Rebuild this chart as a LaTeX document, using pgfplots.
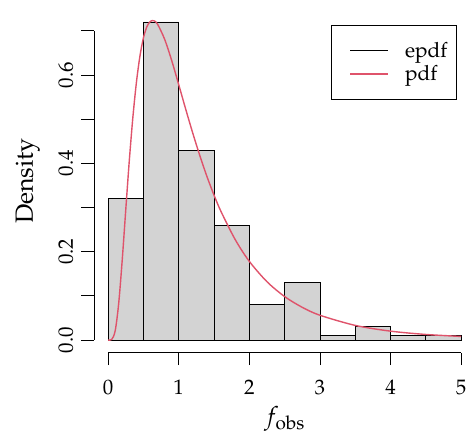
\documentclass[border=0pt]{standalone}
\usepackage[T1]{fontenc}
\usepackage{mathpazo}
\usepackage{pgfplots}
\pgfplotsset{compat=1.18}
\definecolor{rred}{HTML}{DF536B}
\definecolor{rgray}{HTML}{D3D3D3}
\begin{document}
\begin{tikzpicture}
\begin{axis}[
  name=ax,
  x=70.6bp, y=441.7bp,
  xmin=-0.2, xmax=5.2, ymin=-0.0288, ymax=0.7488,
  axis lines*=left,
  axis line style={draw=none},
  tick align=outside,
  major tick length=12.5bp, minor tick length=12.5bp,
  tick style={black, line width=0.8bp},
  xtick={0,1,2,3,4,5},
  ytick={0,0.2,0.4,0.6},
  minor ytick={0.1,0.3,0.5,0.7},
  yticklabels={0.0,0.2,0.4,0.6},
  tick label style={font=\fontsize{21}{24}\selectfont},
  yticklabel style={rotate=90, anchor=south, inner sep=0pt, yshift=8bp},
  xticklabel style={anchor=base, inner sep=0pt, yshift=-29bp},
  xlabel={$f_{\mathrm{obs}}$},
  ylabel={Density},
  every axis x label/.style={at={([yshift=-72bp]axis description cs:0.5,0)}, anchor=base, inner sep=0pt, font=\fontsize{25}{28}\selectfont},
  every axis y label/.style={at={([xshift=-61bp]axis description cs:0,0.5)}, rotate=90, anchor=base, inner sep=0pt, font=\fontsize{25}{28}\selectfont},
  clip=false,
  legend style={at={(axis cs:4.939,0.7132)}, anchor=north east, draw=black, line width=0.8bp,
    font=\fontsize{21}{24}\selectfont, inner xsep=9bp, inner ysep=9bp, row sep=-9.4bp,
    nodes={inner sep=0pt, text height=22.7bp, text depth=10bp}},
  legend cell align=left,
  legend image code/.code={\path (-9bp,0bp); \draw[#1] (0bp,0bp) -- (37.6bp,0bp); \path (54.3bp,0bp);},
]
\draw[black, line width=0.8bp] (axis cs:0,-0.0288) -- (axis cs:5,-0.0288);
\draw[black, line width=0.8bp] (axis cs:-0.2,0) -- (axis cs:-0.2,0.7);
\addplot[ybar interval, fill=rgray, draw=black, line width=0.8bp, forget plot] coordinates {
  (0,0.32) (0.5,0.72) (1,0.43) (1.5,0.26) (2,0.08) (2.5,0.13) (3,0.01) (3.5,0.03) (4,0.01) (4.5,0.01) (5,0.01)
};
\addlegendimage{black, line width=0.8bp}
\addlegendentry{epdf}
\addplot[rred, line width=1.4bp, smooth] coordinates {
  (0,0) (0.05,0.001) (0.1,0.0206) (0.15,0.0832) (0.2,0.1815) (0.25,0.295) (0.3,0.406) (0.35,0.503)
  (0.4,0.582) (0.45,0.642) (0.5,0.684) (0.55,0.7096) (0.6,0.7215) (0.65,0.7226) (0.7,0.715)
  (0.8,0.681) (0.9,0.633) (1.0,0.578) (1.1,0.522) (1.2,0.4677) (1.3,0.417) (1.4,0.370)
  (1.5,0.328) (1.6,0.2905) (1.8,0.2273) (2.0,0.178) (2.25,0.1319) (2.5,0.0983) (2.75,0.0739)
  (3.0,0.056) (3.5,0.033) (4.0,0.020) (4.5,0.0125) (5.0,0.008)
};
\addlegendentry{pdf}
\end{axis}
\pgfresetboundingbox
\path ([xshift=-94bp,yshift=-91.3bp]ax.south west) rectangle ([xshift=373bp,yshift=352.7bp]ax.south west);
\end{tikzpicture}
\end{document}
